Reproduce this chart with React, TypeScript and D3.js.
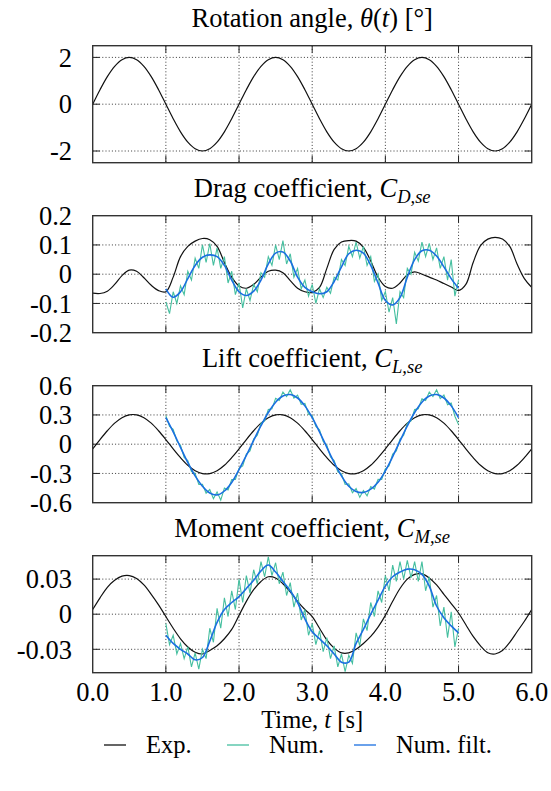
import React from "react";
import * as d3 from "d3";

// ---------- data ----------
const expStart = 0;
const expStep = 0.1;
const numStart = 1;
const numStep = 0.05;
const filtStart = 1;
const filtStep = 0.1;

const timeTicks = [0, 1, 2, 3, 4, 5, 6];
const timeTickLabels = ["0.0", "1.0", "2.0", "3.0", "4.0", "5.0", "6.0"];

const angleTicks = [-2, 0, 2];
const angleTickLabels = ["-2", "0", "2"];
const dragTicks = [-0.2, -0.1, 0, 0.1, 0.2];
const dragTickLabels = ["-0.2", "-0.1", "0", "0.1", "0.2"];
const liftTicks = [-0.6, -0.3, 0, 0.3, 0.6];
const liftTickLabels = ["-0.6", "-0.3", "0", "0.3", "0.6"];
const momentTicks = [-0.03, 0, 0.03];
const momentTickLabels = ["-0.03", "0", "0.03"];

// Rotation angle, experiment (0..6 s, every 0.1 s)
const angleExp = [
  0, 0.62, 1.18, 1.62, 1.9, 2, 1.9, 1.62, 1.18, 0.62,
  0, -0.62, -1.18, -1.62, -1.9, -2, -1.9, -1.62, -1.18, -0.62,
  0, 0.62, 1.18, 1.62, 1.9, 2, 1.9, 1.62, 1.18, 0.62,
  0, -0.62, -1.18, -1.62, -1.9, -2, -1.9, -1.62, -1.18, -0.62,
  0, 0.62, 1.18, 1.62, 1.9, 2, 1.9, 1.62, 1.18, 0.62,
  0, -0.62, -1.18, -1.62, -1.9, -2, -1.9, -1.62, -1.18, -0.62,
  0,
];

// Drag coefficient
const dragExp = [
  -0.065, -0.066, -0.058, -0.035, -0.005, 0.014, 0.01, -0.012, -0.038, -0.056,
  -0.06, -0.01, 0.06, 0.095, 0.113, 0.122, 0.118, 0.095, 0.04, -0.01,
  -0.04, -0.048, -0.035, -0.01, 0.01, 0.014, 0.005, -0.022, -0.048, -0.06,
  -0.062, -0.045, 0.02, 0.085, 0.11, 0.115, 0.113, 0.092, 0.045, -0.01,
  -0.042, -0.048, -0.03, -0.002, 0.008, 0.0, -0.01, -0.02, -0.032, -0.044,
  -0.056, -0.035, 0.04, 0.098, 0.12, 0.126, 0.12, 0.095, 0.035, -0.015,
  -0.045,
];
const dragNum = [
  -0.095, -0.135, -0.06, -0.1, -0.04, -0.07, 0.01, -0.02, 0.055, 0.02,
  0.1, 0.04, 0.105, 0.03, 0.09, 0.02, 0.06, -0.03, 0.01, -0.07,
  -0.03, -0.115, -0.05, -0.09, -0.035, -0.06, 0.005, -0.01, 0.06, 0.03,
  0.1, 0.05, 0.115, 0.035, 0.07, -0.01, 0.02, -0.05, -0.02, -0.075,
  -0.035, -0.1, -0.05, -0.08, -0.045, -0.065, -0.01, -0.02, 0.05, 0.03,
  0.095, 0.06, 0.11, 0.055, 0.095, 0.03, 0.06, -0.025, 0.0, -0.09,
  -0.06, -0.13, -0.08, -0.17, -0.06, -0.08, 0.02, 0.0, 0.075, 0.045,
  0.11, 0.06, 0.105, 0.05, 0.09, 0.02, 0.06, -0.02, 0.05, -0.075,
  -0.02,
];
const dragFilt = [
  -0.05, -0.079, -0.06, -0.015, 0.03, 0.058, 0.066, 0.06, 0.03, -0.02,
  -0.06, -0.073, -0.058, -0.02, 0.035, 0.072, 0.076, 0.045, -0.01, -0.045,
  -0.06, -0.067, -0.06, -0.025, 0.025, 0.07, 0.082, 0.072, 0.03, -0.03,
  -0.09, -0.105, -0.08, -0.01, 0.05, 0.08, 0.082, 0.062, 0.025, -0.015,
  -0.048,
];

// Lift coefficient
const liftExp = [
  -0.048, 0.048, 0.138, 0.216, 0.272, 0.301, 0.301, 0.272, 0.216, 0.138,
  0.048, -0.048, -0.138, -0.216, -0.272, -0.301, -0.301, -0.272, -0.216, -0.138,
  -0.048, 0.048, 0.138, 0.216, 0.272, 0.301, 0.301, 0.272, 0.216, 0.138,
  0.048, -0.048, -0.138, -0.216, -0.272, -0.301, -0.301, -0.272, -0.216, -0.138,
  -0.048, 0.048, 0.138, 0.216, 0.272, 0.301, 0.301, 0.272, 0.216, 0.138,
  0.048, -0.048, -0.138, -0.216, -0.272, -0.301, -0.301, -0.272, -0.216, -0.138,
  -0.048,
];
const liftNum = [
  0.293, 0.183, 0.152, 0.033, -0.012, -0.136, -0.168, -0.28, -0.3, -0.413,
  -0.411, -0.503, -0.464, -0.558, -0.489, -0.573, -0.449, -0.469, -0.363, -0.362,
  -0.248, -0.223, -0.102, -0.068, 0.052, 0.091, 0.213, 0.24, 0.355, 0.363,
  0.471, 0.448, 0.534, 0.488, 0.559, 0.473, 0.504, 0.409, 0.418, 0.307,
  0.293, 0.183, 0.147, 0.028, -0.012, -0.131, -0.168, -0.285, -0.305, -0.413,
  -0.406, -0.498, -0.455, -0.545, -0.475, -0.53, -0.435, -0.46, -0.36, -0.362,
  -0.253, -0.223, -0.102, -0.068, 0.052, 0.091, 0.213, 0.24, 0.355, 0.363,
  0.466, 0.448, 0.534, 0.488, 0.559, 0.468, 0.504, 0.404, 0.423, 0.287,
  0.203,
];
const liftFilt = [
  0.273, 0.127, -0.032, -0.188, -0.325, -0.431, -0.5, -0.52, -0.48, -0.393,
  -0.26, -0.115, 0.04, 0.19, 0.325, 0.431, 0.494, 0.509, 0.474, 0.393,
  0.273, 0.127, -0.032, -0.188, -0.325, -0.431, -0.485, -0.495, -0.46, -0.39,
  -0.273, -0.127, 0.032, 0.188, 0.325, 0.431, 0.494, 0.509, 0.474, 0.393,
  0.273,
];

// Moment coefficient
const momentExp = [
  0.004, 0.014, 0.023, 0.029, 0.0325, 0.033, 0.0305, 0.025, 0.017, 0.008,
  -0.002, -0.012, -0.021, -0.028, -0.0325, -0.034, -0.031, -0.027, -0.021, -0.013,
  -0.001, 0.011, 0.021, 0.028, 0.032, 0.031, 0.026, 0.019, 0.011, 0.004,
  -0.002, -0.012, -0.022, -0.029, -0.033, -0.033, -0.03, -0.025, -0.019, -0.011,
  -0.001, 0.011, 0.022, 0.03, 0.034, 0.0345, 0.031, 0.025, 0.017, 0.009,
  0.001, -0.009, -0.019, -0.027, -0.033, -0.034, -0.031, -0.024, -0.015, -0.006,
  0.004,
];
const momentNum = [
  -0.008, -0.026, -0.018, -0.034, -0.025, -0.038, -0.028, -0.045, -0.033, -0.047,
  -0.03, -0.038, -0.012, -0.024, 0.005, -0.012, 0.014, -0.002, 0.02, 0.004,
  0.03, 0.01, 0.033, 0.018, 0.038, 0.026, 0.045, 0.032, 0.049, 0.033,
  0.044, 0.026, 0.036, 0.016, 0.027, 0.006, 0.018, -0.005, 0.004, -0.018,
  -0.008, -0.026, -0.014, -0.032, -0.02, -0.038, -0.027, -0.045, -0.034, -0.049,
  -0.035, -0.042, -0.016, -0.027, -0.004, -0.014, 0.01, -0.002, 0.02, 0.01,
  0.033, 0.02, 0.042, 0.028, 0.045, 0.03, 0.046, 0.031, 0.045, 0.028,
  0.045, 0.02, 0.032, 0.006, 0.016, -0.01, 0.006, -0.02, 0.002, -0.028,
  -0.012,
];
const momentFilt = [
  -0.018, -0.025, -0.03, -0.034, -0.039, -0.037, -0.023, -0.007, 0.004, 0.01,
  0.015, 0.022, 0.029, 0.037, 0.042, 0.036, 0.028, 0.02, 0.01, -0.004,
  -0.015, -0.021, -0.027, -0.034, -0.041, -0.041, -0.025, -0.013, 0.0, 0.012,
  0.024, 0.032, 0.036, 0.0385, 0.038, 0.034, 0.024, 0.007, -0.003, -0.01,
  -0.016,
];

const legendLabels = ["Exp.", "Num.", "Num. filt."];

// ---------- styles / layout ----------
const W = 551;
const H = 791;
const FONT = "'Liberation Serif', 'Times New Roman', serif";
const FS = 26.5;
const FS_BOTTOM = 24.5;
const C_EXP = "#111";
const C_NUM = "#45bf9f";
const C_FILT = "#1a6fe0";
const X0 = 92.7;
const X1 = 531.7;
const PANEL_H = 117;
const PANEL_TOPS = [45.7, 215.7, 385.7, 555.7];

const x = d3.scaleLinear().domain([0, 6]).range([X0, X1]);

type Panel = {
  title: React.ReactNode;
  domain: [number, number];
  ticks: number[];
  tickLabels: string[];
  exp: number[];
  num?: number[];
  filt?: number[];
};

const sub = (main: string, s: string) => (
  <>
    <tspan fontStyle="italic">{main}</tspan>
    <tspan fontStyle="italic" fontSize={FS * 0.7} dy={6}>{s}</tspan>
  </>
);

const panels: Panel[] = [
  {
    title: (
      <>
        Rotation angle, <tspan fontStyle="italic">θ</tspan>(<tspan fontStyle="italic">t</tspan>) [°]
      </>
    ),
    domain: [-2.5, 2.5],
    ticks: angleTicks,
    tickLabels: angleTickLabels,
    exp: angleExp,
  },
  {
    title: <>Drag coefficient, {sub("C", "D,se")}</>,
    domain: [-0.2, 0.2],
    ticks: dragTicks,
    tickLabels: dragTickLabels,
    exp: dragExp,
    num: dragNum,
    filt: dragFilt,
  },
  {
    title: <>Lift coefficient, {sub("C", "L,se")}</>,
    domain: [-0.6, 0.6],
    ticks: liftTicks,
    tickLabels: liftTickLabels,
    exp: liftExp,
    num: liftNum,
    filt: liftFilt,
  },
  {
    title: <>Moment coefficient, {sub("C", "M,se")}</>,
    domain: [-0.05, 0.05],
    ticks: momentTicks,
    tickLabels: momentTickLabels,
    exp: momentExp,
    num: momentNum,
    filt: momentFilt,
  },
];

function PanelView({ p, top, idx }: { p: Panel; top: number; idx: number }) {
  const y = d3.scaleLinear().domain(p.domain).range([top + PANEL_H, top]);
  const mk = (start: number, step: number, curve: d3.CurveFactory) =>
    d3
      .line<number>()
      .x((_, i) => x(start + i * step))
      .y((v) => y(v))
      .curve(curve);
  const smooth = d3.curveCatmullRom.alpha(0.5);
  const expPath = mk(expStart, expStep, smooth)(p.exp) || "";
  const numPath = p.num ? mk(numStart, numStep, d3.curveLinear)(p.num) || "" : "";
  const filtPath = p.filt ? mk(filtStart, filtStep, smooth)(p.filt) || "" : "";
  const clipId = `clip${idx}`;
  const inner = p.ticks.filter((t) => t > p.domain[0] + 1e-9 && t < p.domain[1] - 1e-9);
  const tl = 7;
  return (
    <g>
      <defs>
        <clipPath id={clipId}>
          <rect x={X0} y={top} width={X1 - X0} height={PANEL_H} />
        </clipPath>
      </defs>
      <text x={(X0 + X1) / 2} y={top - 19} textAnchor="middle" fontSize={FS}>
        {p.title}
      </text>
      {/* grid */}
      <g stroke="#222" strokeWidth={0.9} strokeDasharray="1 2.2">
        {timeTicks.slice(1, -1).map((t) => (
          <line key={"v" + t} x1={x(t)} x2={x(t)} y1={top} y2={top + PANEL_H} />
        ))}
        {inner.map((t) => (
          <line key={"h" + t} x1={X0} x2={X1} y1={y(t)} y2={y(t)} />
        ))}
      </g>
      {/* ticks */}
      <g stroke="#222" strokeWidth={1}>
        {timeTicks.slice(1, -1).map((t) => (
          <g key={"t" + t}>
            <line x1={x(t)} x2={x(t)} y1={top + PANEL_H} y2={top + PANEL_H - tl} />
            <line x1={x(t)} x2={x(t)} y1={top} y2={top + tl} />
          </g>
        ))}
        {inner.map((t) => (
          <g key={"yt" + t}>
            <line x1={X0} x2={X0 + tl} y1={y(t)} y2={y(t)} />
            <line x1={X1} x2={X1 - tl} y1={y(t)} y2={y(t)} />
          </g>
        ))}
      </g>
      <g clipPath={`url(#${clipId})`} fill="none">
        <path d={expPath} stroke={C_EXP} strokeWidth={1.2} />
        {numPath && <path d={numPath} stroke={C_NUM} strokeWidth={1.1} />}
        {filtPath && <path d={filtPath} stroke={C_FILT} strokeWidth={1.6} />}
      </g>
      <rect x={X0} y={top} width={X1 - X0} height={PANEL_H} fill="none" stroke="#333" strokeWidth={1.4} />
      {/* y tick labels */}
      {p.ticks.map((t, i) => (
        <text key={"yl" + t} x={72} y={y(t)} dy="0.35em" textAnchor="end" fontSize={FS}>
          {p.tickLabels[i]}
        </text>
      ))}
    </g>
  );
}

export default function App() {
  const legendColors = [C_EXP, C_NUM, C_FILT];
  const legendLineX = [104, 227, 354];
  const legendY = 745;
  return (
    <svg width={W} height={H} viewBox={`0 0 ${W} ${H}`} style={{ display: "block", position: "absolute", left: 0, top: 0, background: "#fff" }} fontFamily={FONT} fill="#000">
      <rect width={W} height={H} fill="#fff" />
      {panels.map((p, i) => (
        <PanelView key={i} p={p} top={PANEL_TOPS[i]} idx={i} />
      ))}
      {timeTicks.map((t, i) => (
        <text key={"xl" + t} x={x(t)} y={701} textAnchor="middle" fontSize={FS}>
          {timeTickLabels[i]}
        </text>
      ))}
      <text x={(X0 + X1) / 2} y={728} textAnchor="middle" fontSize={FS_BOTTOM}>
        Time, <tspan fontStyle="italic">t</tspan> [s]
      </text>
      {legendLabels.map((l, i) => (
        <g key={l}>
          <line x1={legendLineX[i]} x2={legendLineX[i] + 22} y1={legendY} y2={legendY} stroke={legendColors[i]} strokeWidth={1.3} />
          <text x={legendLineX[i] + 42} y={legendY + 8} fontSize={FS_BOTTOM}>
            {l}
          </text>
        </g>
      ))}
    </svg>
  );
}
